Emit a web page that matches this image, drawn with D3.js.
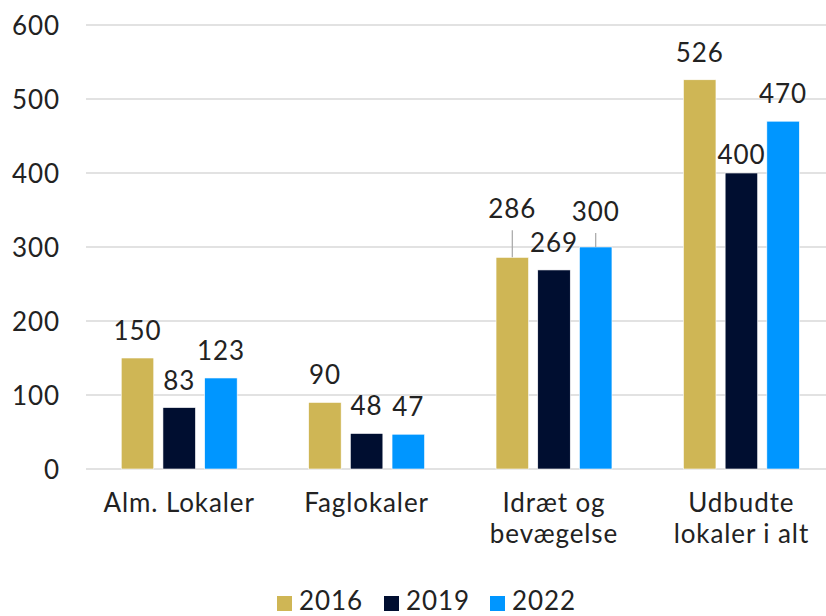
<!DOCTYPE html>
<html>
<head>
<meta charset="utf-8">
<script src="https://cdn.jsdelivr.net/npm/d3@7"></script>
<style>
  html, body { margin: 0; padding: 0; background: #ffffff; }
  svg { display: block; font-family: Lato, "Open Sans", sans-serif; }
  text { letter-spacing: 0.9px; font-weight: 400; }
</style>
</head>
<body>
<svg id="chart" width="826" height="616"></svg>
<script>
const categories = [["Alm. Lokaler"], ["Faglokaler"], ["Idræt og", "bevægelse"], ["Udbudte", "lokaler i alt"]];
const seriesNames = ["2016", "2019", "2022"];
const values2016 = [150, 90, 286, 526];
const values2019 = [83, 48, 269, 400];
const values2022 = [123, 47, 300, 470];
const yTicks = [0, 100, 200, 300, 400, 500, 600];
const colors = ["#CFB655", "#000E30", "#0096FF"];

const series = [values2016, values2019, values2022];
const svg = d3.select("#chart");
const textColor = "#222222";
const fontSize = 26;

const margin = { left: 85.5, top: 25, bottom: 469 };
const x0 = d3.scaleBand().domain(d3.range(categories.length)).range([margin.left, margin.left + 4 * 187.4]).paddingInner(0).paddingOuter(0);
const x1 = d3.scaleBand().domain(d3.range(seriesNames.length)).range([0, x0.bandwidth()]).paddingInner(0.22).paddingOuter(0.857);
const y = d3.scaleLinear().domain([0, 600]).range([margin.bottom, margin.top]);

// gridlines
svg.append("g").selectAll("line").data(yTicks).join("line")
  .attr("x1", 86).attr("x2", 826)
  .attr("y1", d => y(d)).attr("y2", d => y(d))
  .attr("stroke", "#d9d9d9").attr("stroke-width", 1.5);

// y axis labels
const yAxis = d3.axisLeft(y).tickValues(yTicks).tickSize(0).tickPadding(0);
const yg = svg.append("g").attr("transform", "translate(60,0)").call(yAxis);
yg.select(".domain").remove();
yg.selectAll("text").attr("font-size", fontSize).attr("font-family", "Lato, sans-serif").attr("fill", textColor).attr("dy", "0.36em");

// bars
const groups = svg.append("g").selectAll("g").data(categories).join("g")
  .attr("transform", (d, i) => `translate(${x0(i)},0)`);

groups.selectAll("rect").data((d, i) => series.map((s, j) => ({ v: s[i], j, i }))).join("rect")
  .attr("x", d => x1(d.j))
  .attr("width", x1.bandwidth())
  .attr("y", d => y(d.v))
  .attr("height", d => y(0) - y(d.v))
  .attr("fill", d => colors[d.j])
  .attr("stroke", "#ffffff").attr("stroke-width", 0.6);

// data labels, some nudged as in the original
function labelShift(d) {
  if (d.i === 2 && d.j === 0) return 21;
  if (d.i === 2 && d.j === 2) return 8;
  if (d.i === 3 && d.j === 1) return -9;
  return 0;
}
groups.each(function(cat, i) {
  const g = d3.select(this);
  const data = series.map((s, j) => ({ v: s[i], j, i }));
  data.forEach(d => {
    const cx = x1(d.j) + x1.bandwidth() / 2;
    const top = y(d.v);
    const base = top - 18 - labelShift(d);
    if (labelShift(d) > 0) {
      g.append("line").attr("x1", cx).attr("x2", cx)
        .attr("y1", base + 12).attr("y2", top)
        .attr("stroke", "#a6a6a6").attr("stroke-width", 1.2);
    }
    g.append("text").attr("x", cx).attr("y", base)
      .attr("text-anchor", "middle").attr("font-size", fontSize)
      .attr("fill", textColor).text(d.v);
  });
});

// category labels
const xAxisG = svg.append("g");
categories.forEach((lines, i) => {
  const cx = x0(i) + x0.bandwidth() / 2;
  const t = xAxisG.append("text").attr("text-anchor", "middle").attr("font-size", fontSize).attr("fill", textColor);
  lines.forEach((ln, k) => {
    t.append("tspan").attr("x", cx).attr("y", 512 + k * 31).text(ln);
  });
});

// legend
const legend = svg.append("g");
const legendX = [277, 384, 490];
seriesNames.forEach((name, j) => {
  legend.append("rect").attr("x", legendX[j]).attr("y", 596).attr("width", 15).attr("height", 15).attr("fill", colors[j]);
  legend.append("text").attr("x", legendX[j] + 22).attr("y", 610).attr("font-size", fontSize).attr("fill", textColor).text(name);
});
</script>
</body>
</html>
